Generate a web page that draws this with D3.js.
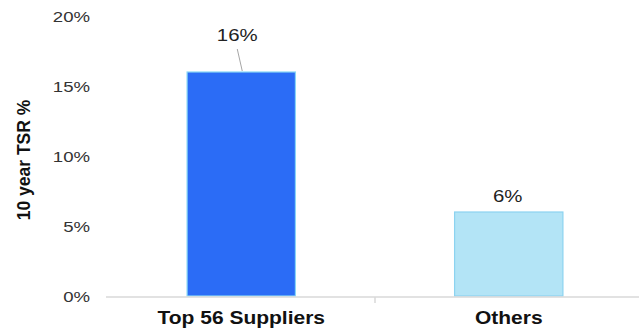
<!DOCTYPE html>
<html>
<head>
<meta charset="utf-8">
<script src="https://cdn.jsdelivr.net/npm/d3@7"></script>
<style>
  html, body { margin: 0; padding: 0; background: #fff; }
  svg { display: block; font-family: "Liberation Sans", Arial, sans-serif; }
</style>
</head>
<body>
<div id="chart"></div>
<script>
// data
const categories = ['Top 56 Suppliers', 'Others'];
const tsr = [0.16, 0.06];
const valueLabels = ['16%', '6%'];
const yTicks = [0, 0.05, 0.10, 0.15, 0.20];
const barFills = ['#2b6cf6', '#b3e4f6'];
const barStrokes = ['#88d6f6', '#8cd3f0'];

const width = 639, height = 330;
const sx = 1.2; // text in the source looks stretched sideways

const svg = d3.select('#chart').append('svg')
    .attr('width', width)
    .attr('height', height);

const y = d3.scaleLinear().domain([0, 0.2]).range([296, 16]);
const x = d3.scaleBand().domain(categories).range([107.5, 642.5]).padding(0);
const barW = x.bandwidth() * 0.405;

// helper: horizontally stretched text
function stretchedText(g, tx, ty) {
    return g.append('text').attr('transform', `translate(${tx},${ty}) scale(${sx},1)`);
}

// y tick labels (no grid, no axis line)
const fmt = d3.format('.0%');
yTicks.forEach(t => {
    stretchedText(svg, 90, y(t))
        .attr('text-anchor', 'end')
        .attr('dy', '0.36em')
        .attr('font-size', 15.5)
        .attr('fill', '#333')
        .text(fmt(t));
});

// y title
svg.append('text')
    .attr('transform', `translate(30,160) rotate(-90)`)
    .attr('text-anchor', 'middle')
    .attr('font-size', 17.5)
    .attr('font-weight', 'bold')
    .attr('fill', '#111')
    .text('10 year TSR %');

// bars
svg.append('g').selectAll('rect').data(categories).join('rect')
    .attr('x', d => x(d) + (x.bandwidth() - barW) / 2)
    .attr('y', (d, i) => y(tsr[i]))
    .attr('width', barW)
    .attr('height', (d, i) => y(0) - y(tsr[i]))
    .attr('fill', (d, i) => barFills[i])
    .attr('stroke', (d, i) => barStrokes[i])
    .attr('stroke-width', 1.2);

// x axis line + tick between categories
const base = y(0) + 1;
svg.append('line')
    .attr('x1', 106).attr('x2', width)
    .attr('y1', base).attr('y2', base)
    .attr('stroke', '#d9d9d9').attr('stroke-width', 1.5);
svg.append('line')
    .attr('x1', x(categories[1])).attr('x2', x(categories[1]))
    .attr('y1', base).attr('y2', base + 6)
    .attr('stroke', '#d9d9d9').attr('stroke-width', 1.5);

// category labels
categories.forEach(c => {
    stretchedText(svg, x(c) + x.bandwidth() / 2, 324)
        .attr('text-anchor', 'middle')
        .attr('font-size', 17.5)
        .attr('font-weight', 'bold')
        .attr('fill', '#111')
        .text(c);
});

// value labels; the first one sits above with a leader line
const c0 = x(categories[0]) + x.bandwidth() / 2;
svg.append('line')
    .attr('x1', c0 - 4).attr('y1', 49)
    .attr('x2', c0 + 1).attr('y2', y(tsr[0]) - 1)
    .attr('stroke', '#a6a6a6').attr('stroke-width', 1);
stretchedText(svg, c0 - 4, 41)
    .attr('text-anchor', 'middle')
    .attr('font-size', 17)
    .attr('fill', '#222')
    .text(valueLabels[0]);

const c1 = x(categories[1]) + x.bandwidth() / 2;
stretchedText(svg, c1 - 1, y(tsr[1]) - 10)
    .attr('text-anchor', 'middle')
    .attr('font-size', 17)
    .attr('fill', '#222')
    .text(valueLabels[1]);
</script>
</body>
</html>
